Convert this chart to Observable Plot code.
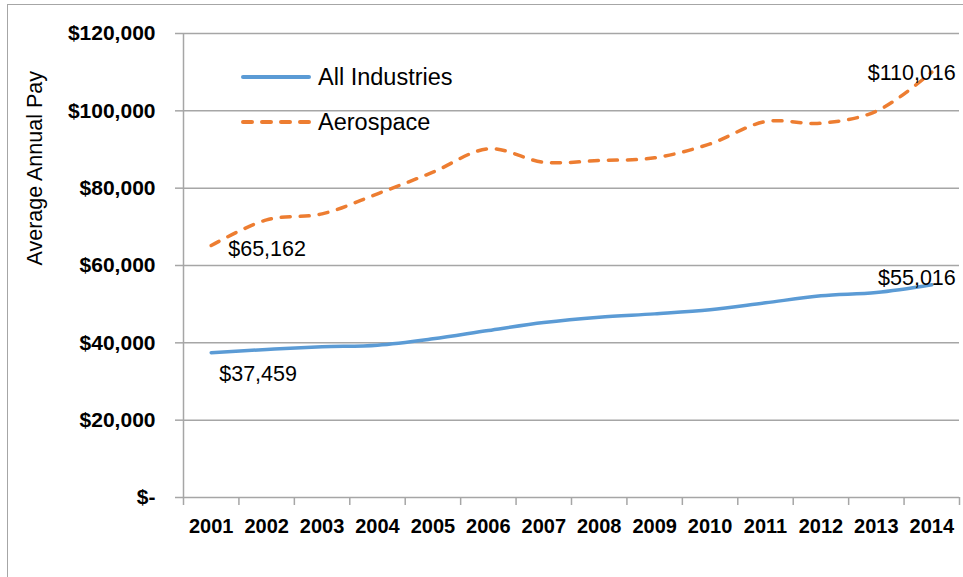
<!DOCTYPE html>
<html>
<head>
<meta charset="utf-8">
<script src="https://cdn.jsdelivr.net/npm/d3@7"></script>
<script src="https://cdn.jsdelivr.net/npm/@observablehq/plot@0.6"></script>
<style>
  html, body { margin: 0; padding: 0; background: #fff; overflow: hidden; }
  #wrap { position: relative; width: 963px; height: 577px; font-family: "Liberation Sans", Arial, sans-serif; }
  #frame { position: absolute; left: 7px; top: 4px; width: 1000px; height: 620px; border: 1.5px solid #a6a6a6; pointer-events: none; }
  #legend { position: absolute; left: 241px; top: 0; }
  .lg { position: absolute; left: 0; display: flex; align-items: center; white-space: nowrap; font-size: 23.5px; color: #000; }
  .lg svg { margin-right: 7px; }
</style>
</head>
<body>
<div id="wrap">
  <div id="chart"></div>
  <div id="frame"></div>
  <div id="legend"></div>
</div>
<script>
const years = [2001, 2002, 2003, 2004, 2005, 2006, 2007, 2008, 2009, 2010, 2011, 2012, 2013, 2014];
const allIndustries = [37459, 38270, 38960, 39390, 41030, 43190, 45250, 46630, 47490, 48530, 50340, 52150, 53000, 55016];
const aerospace = [65162, 71800, 73360, 78540, 84130, 90170, 86720, 87150, 87840, 91460, 97220, 96800, 99900, 110016];
const seriesNames = ["All Industries", "Aerospace"];
const seriesColors = ["#5b9bd5", "#ed7d31"];
const yTicks = [0, 20000, 40000, 60000, 80000, 100000, 120000];
const yTitle = "Average Annual Pay";

const fmt = v => v === 0 ? "$-" : "$" + d3.format(",")(v);
const gray = "#a6a6a6";
const font = "\"Liberation Sans\", Arial, sans-serif";

const rows = [];
years.forEach((yr, i) => {
  rows.push({year: yr, value: allIndustries[i], series: seriesNames[0]});
  rows.push({year: yr, value: aerospace[i], series: seriesNames[1]});
});
const bounds = years.map(y => y - 0.5).concat([years[years.length - 1] + 0.5]);
const n = years.length - 1;

const chart = Plot.plot({
  width: 963,
  height: 577,
  marginLeft: 183,
  marginRight: 4,
  marginTop: 33,
  marginBottom: 80,
  style: {fontFamily: font, background: "transparent"},
  x: {domain: [years[0] - 0.5, years[n] + 0.5], axis: null},
  y: {domain: [yTicks[0], yTicks[yTicks.length - 1]], axis: null},
  marks: [
    Plot.ruleY(yTicks, {stroke: gray, strokeWidth: 1.5}),
    Plot.ruleX([bounds[0]], {stroke: gray, strokeWidth: 1.5}),
    Plot.axisY({ticks: yTicks, tickFormat: fmt, tickSize: 8, tickPadding: 20, stroke: gray, strokeWidth: 1.5,
      fontSize: 21, fontWeight: "bold", fill: "#000", label: null}),
    Plot.axisX({ticks: bounds, tickFormat: () => "", tickSize: 8, stroke: gray, strokeWidth: 1.5, label: null}),
    Plot.axisX({ticks: years, tickFormat: d => String(d), tickSize: 0, tickPadding: 21,
      fontSize: 20, fontWeight: "bold", fill: "#000", label: null}),
    Plot.text([yTitle], {frameAnchor: "left", rotate: -90, dx: -148, fontSize: 21.5, fill: "#000", lineAnchor: "middle"}),
    Plot.line(rows.filter(d => d.series === seriesNames[0]), {x: "year", y: "value", stroke: seriesColors[0],
      strokeWidth: 3.5, curve: "catmull-rom"}),
    Plot.line(rows.filter(d => d.series === seriesNames[1]), {x: "year", y: "value", stroke: seriesColors[1],
      strokeWidth: 3.5, strokeDasharray: "9,10", strokeLinecap: "round", curve: "catmull-rom"}),
    Plot.text([{year: years[0], value: aerospace[0]}], {x: "year", y: "value", text: d => fmt(d.value),
      textAnchor: "start", lineAnchor: "middle", dx: 17, dy: 4, fontSize: 21.5, fill: "#000"}),
    Plot.text([{year: years[0], value: allIndustries[0]}], {x: "year", y: "value", text: d => fmt(d.value),
      textAnchor: "start", lineAnchor: "middle", dx: 8, dy: 21, fontSize: 21.5, fill: "#000"}),
    Plot.text([{year: years[n], value: aerospace[n]}], {x: "year", y: "value", text: d => fmt(d.value),
      textAnchor: "end", lineAnchor: "middle", dx: 24, dy: 1, fontSize: 21.5, fill: "#000"}),
    Plot.text([{year: years[n], value: allIndustries[n]}], {x: "year", y: "value", text: d => fmt(d.value),
      textAnchor: "end", lineAnchor: "middle", dx: 24, dy: -7, fontSize: 21.5, fill: "#000"})
  ]
});
document.getElementById("chart").appendChild(chart);

// legend
const legend = document.getElementById("legend");
const legendTops = [77, 122];
seriesNames.forEach((name, i) => {
  const item = document.createElement("div");
  item.className = "lg";
  item.style.top = (legendTops[i] - 15) + "px";
  item.style.height = "30px";
  const dash = i === 1 ? ' stroke-dasharray="9,10" stroke-linecap="round"' : ' stroke-linecap="round"';
  item.innerHTML = `<svg width="70" height="10"><line x1="2" y1="5" x2="68" y2="5" stroke="${seriesColors[i]}" stroke-width="4"${dash}/></svg><span>${name}</span>`;
  legend.appendChild(item);
});
</script>
</body>
</html>
